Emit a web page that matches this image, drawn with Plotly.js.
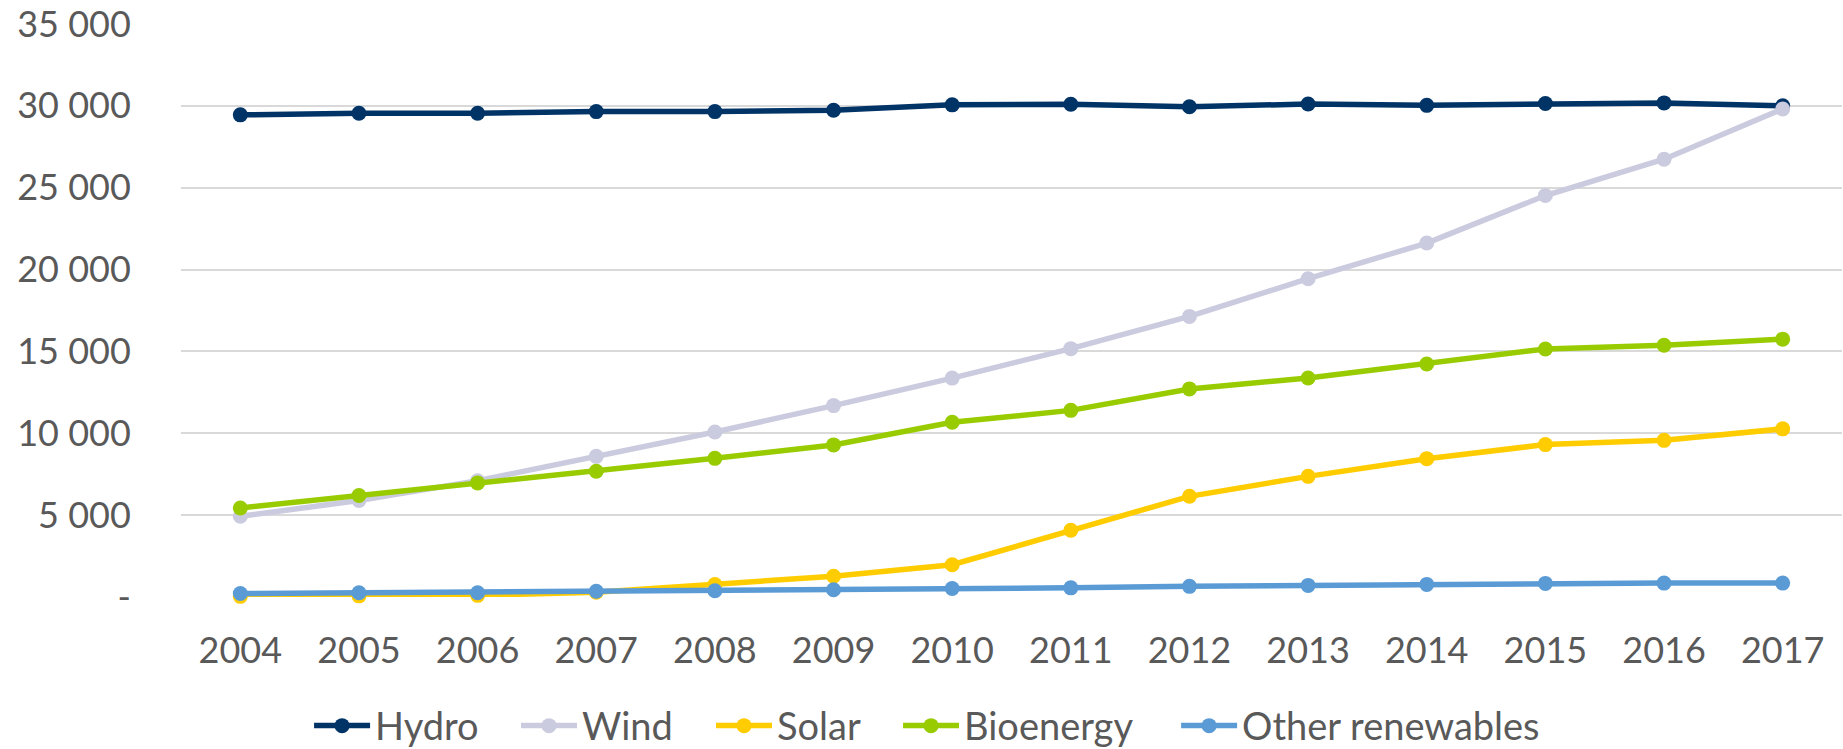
<!DOCTYPE html>
<html>
<head>
<meta charset="utf-8">
<script src="https://cdn.plot.ly/plotly-3.0.1.min.js"></script>
<style>
  html, body { margin: 0; padding: 0; background: #ffffff; }
  #chart { width: 1843px; height: 749px; }
</style>
</head>
<body>
<div id="chart"></div>
<script>
const years = ['2004','2005','2006','2007','2008','2009','2010','2011','2012','2013','2014','2015','2016','2017'];
const hydro = [29450, 29550, 29550, 29650, 29650, 29730, 30060, 30100, 29950, 30110, 30030, 30140, 30180, 30010];
const wind = [4930, 5890, 7100, 8590, 10080, 11690, 13370, 15170, 17140, 19440, 21620, 24520, 26740, 29810];
const solar = [40, 70, 100, 290, 760, 1270, 1970, 4080, 6150, 7370, 8450, 9310, 9570, 10270];
const bioenergy = [5440, 6200, 6970, 7680, 8470, 9290, 10670, 11400, 12710, 13380, 14230, 15150, 15380, 15750];
const otherRenewables = [210, 260, 260, 350, 380, 440, 520, 560, 650, 710, 770, 830, 850, 850];
const seriesNames = ['Hydro', 'Wind', 'Solar', 'Bioenergy', 'Other renewables'];
const yTickVals = [0, 5000, 10000, 15000, 20000, 25000, 30000, 35000];
const yTickText = ['-', '5 000', '10 000', '15 000', '20 000', '25 000', '30 000', '35 000'];

const colors = ['#003366', '#CBCBE0', '#FFCC00', '#99CC00', '#5B9BD5'];
const seriesData = [hydro, wind, solar, bioenergy, otherRenewables];
const legendIds = ['legend', 'legend2', 'legend3', 'legend4', 'legend5'];
const legendX = [0.0771, 0.2017, 0.3191, 0.4317, 0.5991];

const traces = seriesData.map((vals, i) => ({
  type: 'scatter',
  mode: 'lines+markers',
  name: seriesNames[i],
  legend: legendIds[i],
  x: years,
  y: vals,
  line: { color: colors[i], width: 5.5 },
  marker: { color: colors[i], size: 15 },
  cliponaxis: false,
  hoverinfo: 'x+y+name'
}));

const fontFamily = 'Lato, "Open Sans", sans-serif';
const textColor = '#595959';

const layout = {
  width: 1843,
  height: 749,
  margin: { l: 181, r: 1, t: 24, b: 151.5, autoexpand: false },
  paper_bgcolor: '#ffffff',
  plot_bgcolor: '#ffffff',
  font: { family: fontFamily, size: 36, color: textColor },
  showlegend: true,
  xaxis: {
    type: 'category',
    range: [-0.5, 13.5],
    showgrid: false,
    zeroline: false,
    showline: false,
    ticks: 'outside',
    ticklen: 22,
    tickcolor: 'rgba(0,0,0,0)',
    tickfont: { family: fontFamily, size: 36, color: textColor },
    fixedrange: true,
    automargin: false
  },
  yaxis: {
    range: [0, 35000],
    tickmode: 'array',
    tickvals: yTickVals,
    ticktext: yTickText,
    showgrid: true,
    gridcolor: '#D9D9D9',
    gridwidth: 1.5,
    zeroline: false,
    showline: false,
    ticks: 'outside',
    ticklen: 42,
    tickcolor: 'rgba(0,0,0,0)',
    tickfont: { family: fontFamily, size: 36, color: textColor },
    fixedrange: true,
    automargin: false
  }
};

legendIds.forEach((id, i) => {
  layout[id] = {
    orientation: 'h',
    x: legendX[i],
    xanchor: 'left',
    y: -0.225,
    yanchor: 'middle',
    itemwidth: 56,
    font: { family: fontFamily, size: 38, color: textColor },
    bgcolor: 'rgba(0,0,0,0)'
  };
});

Plotly.newPlot('chart', traces, layout, { displayModeBar: false, responsive: false });
</script>
</body>
</html>
